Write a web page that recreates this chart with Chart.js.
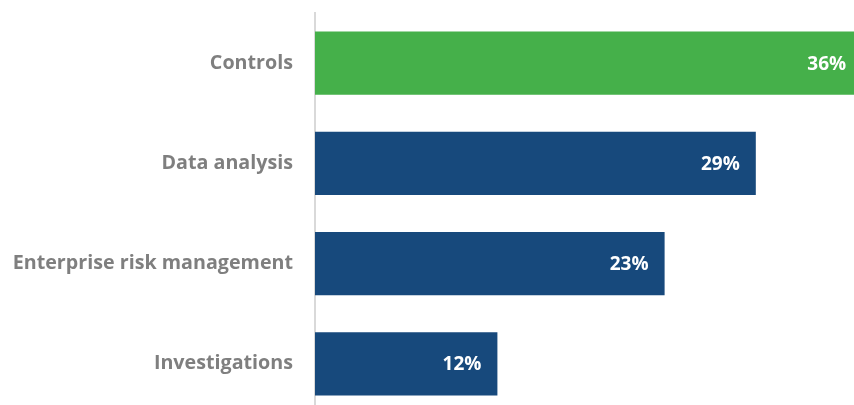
<!DOCTYPE html>
<html>
<head>
<meta charset="utf-8">
<script src="https://cdn.jsdelivr.net/npm/chart.js@4/dist/chart.umd.min.js"></script>
<style>
  html, body { margin: 0; padding: 0; background: #fff; overflow: hidden; }
  #chart { display: block; }
</style>
</head>
<body>
<canvas id="chart" width="854" height="414"></canvas>
<script>
var categories = ['Controls', 'Data analysis', 'Enterprise risk management', 'Investigations'];
var values = [36, 29, 23, 12];
var barColors = ['#45b04a', '#17497c', '#17497c', '#17497c'];

// white % labels at the end of each bar
var barLabels = {
    id: 'barLabels',
    afterDatasetsDraw: function(chart) {
        var ctx = chart.ctx;
        var meta = chart.getDatasetMeta(0);
        ctx.save();
        ctx.font = 'bold 19px "Open Sans"';
        ctx.fillStyle = '#ffffff';
        ctx.textAlign = 'right';
        ctx.textBaseline = 'middle';
        meta.data.forEach(function(bar, i) {
            ctx.fillText(values[i] + '%', bar.x - 16, bar.y + 1);
        });
        ctx.restore();
    }
};

new Chart(document.getElementById('chart'), {
    type: 'bar',
    data: {
        labels: categories,
        datasets: [{
            data: values,
            backgroundColor: barColors,
            barPercentage: 0.63,
            categoryPercentage: 1
        }]
    },
    options: {
        indexAxis: 'y',
        responsive: false,
        animation: false,
        layout: { padding: { top: 13, right: 0, left: 0, bottom: 0 } },
        plugins: {
            legend: { display: false },
            tooltip: { enabled: false }
        },
        scales: {
            x: {
                display: false,
                min: 0,
                max: 35.46
            },
            y: {
                afterFit: function(scale) {
                    scale.width = 315;
                    scale.paddingTop = 0;
                    scale.paddingBottom = 0;
                },
                grid: { display: false, drawTicks: false },
                border: { display: true, color: '#d9d9d9', width: 2 },
                ticks: {
                    padding: 22,
                    color: '#7f7f7f',
                    font: { family: 'Open Sans', size: 19.7, weight: 'bold' }
                }
            }
        }
    },
    plugins: [barLabels]
});
</script>
</body>
</html>
